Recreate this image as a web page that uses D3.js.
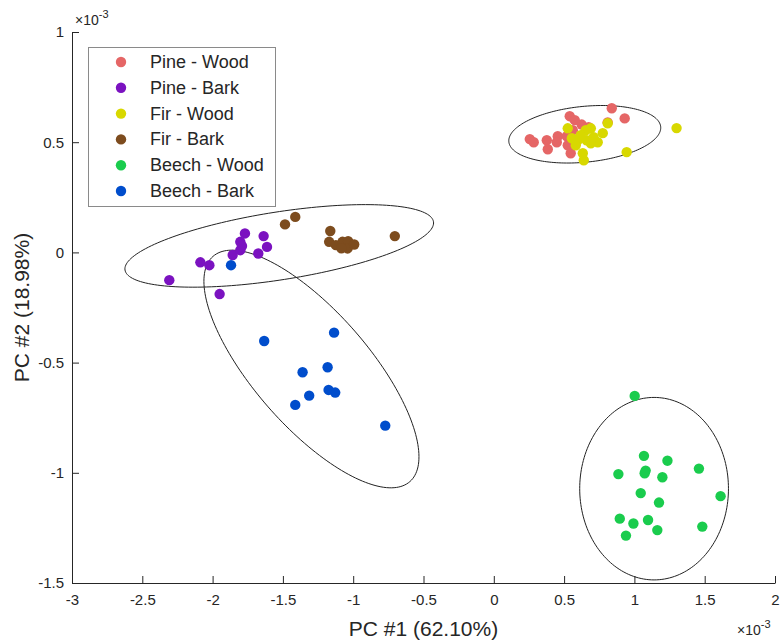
<!DOCTYPE html>
<html>
<head>
<meta charset="utf-8">
<script src="https://cdn.jsdelivr.net/npm/d3@7"></script>
<style>
  body { margin: 0; background: #fff; }
  text { font-family: "Liberation Sans", Arial, Helvetica, sans-serif; fill: #262626; }
</style>
</head>
<body>
<svg id="chart" width="781" height="643"></svg>
<script>
// PCA scores (units of 1e-3)
const groupNames = ["Pine - Wood", "Pine - Bark", "Fir - Wood", "Fir - Bark", "Beech - Wood", "Beech - Bark"];
const groupColors = ["#e56666", "#7b12c0", "#d8d800", "#7d4c1e", "#1acc4d", "#004dcc"];

const pineWood = [
  [0.839, 0.654], [0.931, 0.608], [0.810, 0.590], [0.540, 0.618], [0.576, 0.600],
  [0.625, 0.580], [0.675, 0.568], [0.256, 0.514], [0.284, 0.500], [0.377, 0.509],
  [0.384, 0.468], [0.455, 0.527], [0.448, 0.500], [0.526, 0.486], [0.547, 0.450],
  [0.519, 0.527], [0.562, 0.554]
];
const pineBark = [
  [-2.308, -0.126], [-2.087, -0.045], [-2.023, -0.058], [-1.950, -0.189], [-1.857, -0.012],
  [-1.803, 0.048], [-1.770, 0.086], [-1.803, 0.010], [-1.791, 0.029], [-1.637, 0.074],
  [-1.613, 0.025], [-1.675, -0.005]
];
const firWood = [
  [1.300, 0.564], [0.945, 0.455], [0.640, 0.418], [0.633, 0.450], [0.810, 0.586],
  [0.526, 0.563], [0.775, 0.541], [0.739, 0.500], [0.690, 0.495], [0.597, 0.509],
  [0.654, 0.554], [0.690, 0.563], [0.618, 0.532], [0.710, 0.523], [0.583, 0.486],
  [0.660, 0.509], [0.555, 0.518]
];
const firBark = [
  [-1.485, 0.127], [-1.412, 0.161], [-1.163, 0.097], [-1.171, 0.048], [-1.123, 0.033],
  [-1.076, 0.048], [-1.036, 0.051], [-1.040, 0.018], [-0.993, 0.036], [-1.084, 0.019],
  [-0.704, 0.074]
];
const beechWood = [
  [1.002, -0.651], [1.068, -0.923], [1.235, -0.945], [0.886, -1.006], [1.080, -0.990],
  [1.073, -1.002], [1.199, -1.020], [1.459, -0.981], [1.045, -1.092], [1.175, -1.135],
  [1.613, -1.106], [0.896, -1.208], [0.993, -1.230], [1.097, -1.214], [1.163, -1.260],
  [1.483, -1.244], [0.940, -1.285]
];
const beechBark = [
  [-1.869, -0.058], [-1.633, -0.402], [-1.136, -0.364], [-1.360, -0.544], [-1.182, -0.521],
  [-1.313, -0.650], [-1.412, -0.692], [-1.175, -0.624], [-1.128, -0.636], [-0.772, -0.786]
];
const groupPoints = [pineWood, pineBark, firWood, firBark, beechWood, beechBark];

// Confidence ellipses: centre plus two conjugate semi-axis vectors (data units)
const ellipseCenters = [[0.647, 0.536], [-1.526, 0.0295], [-1.297, -0.529], [1.140, -1.072]];
const ellipseAxisA   = [[0.540, 0.034], [1.097, 0.1095], [0.700, -0.511], [0.529, 0]];
const ellipseAxisB   = [[0.019, -0.126], [0.0374, -0.152], [-0.308, -0.172], [0, 0.414]];

const xTicks = [-3, -2.5, -2, -1.5, -1, -0.5, 0, 0.5, 1, 1.5, 2];
const yTicks = [-1.5, -1, -0.5, 0, 0.5, 1];
const xLabel = "PC #1 (62.10%)";
const yLabel = "PC #2 (18.98%)";

const svg = d3.select("#chart");
const plot = { left: 72, right: 775, top: 32, bottom: 583 };

const x = d3.scaleLinear().domain([-3, 2]).range([plot.left, plot.right]);
const y = d3.scaleLinear().domain([-1.5, 1]).range([plot.bottom, plot.top]);

// Ellipses
const tSteps = d3.range(0, 361, 2).map(t => t * Math.PI / 180);
const ellipseLine = d3.line().x(d => x(d[0])).y(d => y(d[1])).curve(d3.curveLinearClosed);
ellipseCenters.forEach((c, i) => {
  const a = ellipseAxisA[i], b = ellipseAxisB[i];
  const pts = tSteps.map(t => [c[0] + a[0] * Math.cos(t) + b[0] * Math.sin(t),
                               c[1] + a[1] * Math.cos(t) + b[1] * Math.sin(t)]);
  svg.append("path").attr("d", ellipseLine(pts))
    .attr("fill", "none").attr("stroke", "#222").attr("stroke-width", 1);
});

// Points
groupPoints.forEach((pts, gi) => {
  svg.append("g").selectAll("circle").data(pts).join("circle")
    .attr("cx", d => x(d[0])).attr("cy", d => y(d[1]))
    .attr("r", 5.2).attr("fill", groupColors[gi]);
});

// Axes (ticks pointing inward)
const xAxis = svg.append("g").attr("transform", `translate(0,${plot.bottom})`)
  .call(d3.axisBottom(x).tickValues(xTicks).tickFormat(d => String(d))
        .tickSizeInner(-7).tickSizeOuter(0).tickPadding(11));
const yAxis = svg.append("g").attr("transform", `translate(${plot.left},0)`)
  .call(d3.axisLeft(y).tickValues(yTicks).tickFormat(d => String(d))
        .tickSizeInner(-7).tickSizeOuter(0).tickPadding(8));
[xAxis, yAxis].forEach(g => {
  g.selectAll("path.domain").attr("stroke", "#262626").attr("stroke-width", 1);
  g.selectAll(".tick line").attr("stroke", "#262626");
  g.selectAll(".tick text").attr("fill", "#262626").style("font-size", "15px")
    .style("font-family", '"Liberation Sans", Arial, sans-serif');
});

// Exponent labels
function exponent(xp, yp) {
  const t = svg.append("text").attr("x", xp).attr("y", yp).style("font-size", "14px");
  t.append("tspan").text("\u00d710");
  t.append("tspan").attr("dy", -7).style("font-size", "11px").text("-3");
}
exponent(75, 25);
exponent(737, 635);

// Axis titles
svg.append("text").attr("x", (plot.left + plot.right) / 2).attr("y", 636)
  .attr("text-anchor", "middle").style("font-size", "21px").text(xLabel);
svg.append("text").attr("transform", `translate(29,${(plot.top + plot.bottom) / 2}) rotate(-90)`)
  .attr("text-anchor", "middle").style("font-size", "21px").text(yLabel);

// Legend
const legend = svg.append("g");
legend.append("rect").attr("x", 88.5).attr("y", 47.5).attr("width", 187).attr("height", 159)
  .attr("fill", "#fff").attr("stroke", "#8a8a8a").attr("stroke-width", 1);
groupNames.forEach((name, i) => {
  const cy = 62 + i * 25.8;
  legend.append("circle").attr("cx", 121).attr("cy", cy).attr("r", 5.2).attr("fill", groupColors[i]);
  legend.append("text").attr("x", 150).attr("y", cy + 6).style("font-size", "18px").text(name);
});
</script>
</body>
</html>
